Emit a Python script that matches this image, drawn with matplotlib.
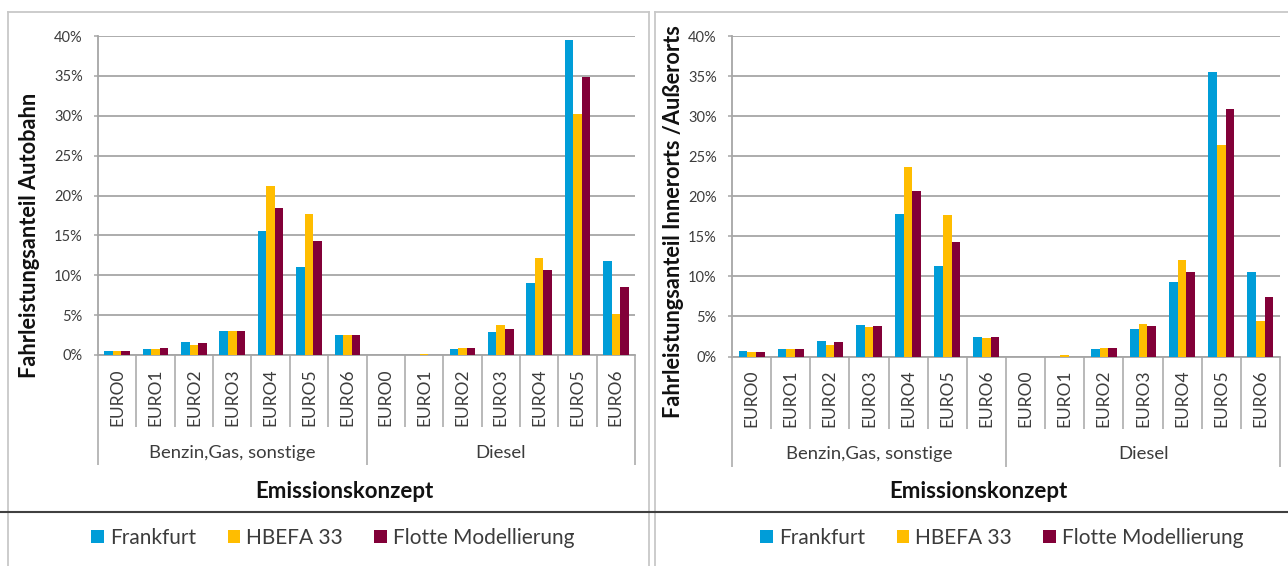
import matplotlib.pyplot as plt
import numpy as np
from matplotlib.lines import Line2D
from matplotlib.ticker import PercentFormatter

plt.rcParams['font.family'] = ['Lato', 'DejaVu Sans']

# Data
classes = ['EURO0', 'EURO1', 'EURO2', 'EURO3', 'EURO4', 'EURO5', 'EURO6']
fuels = ['Benzin,Gas, sonstige', 'Diesel']
series = ['Frankfurt', 'HBEFA 33', 'Flotte Modellierung']
colors = ['#009DD8', '#FFBD00', '#820038']

# Autobahn share in % (Benzin 7 values, then Diesel 7 values)
autobahn_frankfurt = [0.5, 0.8, 1.65, 3.05, 15.6, 11.0, 2.45, 0, 0, 0.8, 2.9, 9.0, 39.5, 11.8]
autobahn_hbefa = [0.5, 0.8, 1.25, 3.05, 21.2, 17.7, 2.45, 0, 0.12, 0.9, 3.7, 12.2, 30.2, 5.1]
autobahn_flotte = [0.5, 0.85, 1.5, 3.05, 18.45, 14.3, 2.45, 0, 0, 0.9, 3.25, 10.6, 34.8, 8.5]

# Innerorts / Ausserorts share in %
inner_frankfurt = [0.65, 0.95, 1.95, 3.9, 17.8, 11.3, 2.45, 0, 0, 0.95, 3.4, 9.3, 35.5, 10.6]
inner_hbefa = [0.5, 0.95, 1.45, 3.7, 23.6, 17.6, 2.3, 0, 0.2, 1.1, 4.1, 12.1, 26.4, 4.4]
inner_flotte = [0.55, 0.95, 1.75, 3.75, 20.7, 14.3, 2.45, 0, 0, 1.0, 3.75, 10.6, 30.9, 7.4]

W, H = 1288, 566
fig = plt.figure(figsize=(W / 100, H / 100), dpi=100)

grey = '#A6A6A6'
text_col = '#3C3C3C'


def fx(px):
    return px / W


def fy(py):
    return 1 - py / H


def draw_panel(ax, data, ylabel, ylabel_x, ylabel_y, xlabel_x):
    x = np.arange(len(fuels) * len(classes))
    w = 0.222
    bars = []
    for i, vals in enumerate(data):
        b = ax.bar(x + (i - 1) * w, np.array(vals) / 100, w, color=colors[i],
                   label=series[i], zorder=3)
        bars.append(b)

    ax.set_xlim(-0.5, len(x) - 0.5)
    ax.set_ylim(0, 0.40)
    ax.set_yticks(np.arange(0, 0.401, 0.05))
    ax.yaxis.set_major_formatter(PercentFormatter(1.0, decimals=0))
    ax.grid(axis='y', color=grey, linewidth=1.3, zorder=0)
    ax.tick_params(axis='y', length=3, width=1.1, color=grey, pad=8,
                   labelsize=10.5, labelcolor=text_col)

    # category separators below the axis
    bounds = np.arange(len(x) + 1) - 0.5
    group_bounds = bounds[::len(classes)]
    ax.set_xticks(group_bounds)
    ax.set_xticks([b for b in bounds if b not in group_bounds], minor=True)
    ax.set_xticklabels([])
    ax.tick_params(axis='x', which='major', length=79, width=1.1, color=grey)
    ax.tick_params(axis='x', which='minor', length=52, width=1.1, color=grey)

    for s in ['top', 'right']:
        ax.spines[s].set_visible(False)
    for s in ['left', 'bottom']:
        ax.spines[s].set_color(grey)
        ax.spines[s].set_linewidth(1.3)

    labels = classes * len(fuels)
    for xi, lab in zip(x, labels):
        ax.annotate(lab, xy=(xi, 0), xycoords=('data', 'axes fraction'),
                    xytext=(0, -9.5), textcoords='offset points',
                    rotation=90, ha='center', va='top', fontsize=12.5,
                    color=text_col)
    for g, name in enumerate(fuels):
        cx = g * len(classes) + (len(classes) - 1) / 2
        ax.annotate(name, xy=(cx, 0), xycoords=('data', 'axes fraction'),
                    xytext=(0, -70.5), textcoords='offset points',
                    ha='center', va='center', fontsize=13.3, color=text_col)

    fig.text(fx(ylabel_x), fy(ylabel_y), ylabel, rotation=90, ha='center',
             va='center', fontsize=15.7, fontweight='bold', color='#111111')
    fig.text(fx(xlabel_x), fy(492), 'Emissionskonzept', ha='center',
             va='center', fontsize=16, fontweight='bold', color='#111111')
    return bars


ax1 = fig.add_axes([fx(98), fy(355), fx(635) - fx(98), fy(36) - fy(355)])
ax2 = fig.add_axes([fx(732), fy(356.5), fx(1280) - fx(732), fy(36) - fy(356.5)])

b1 = draw_panel(ax1, [autobahn_frankfurt, autobahn_hbefa, autobahn_flotte],
                'Fahrleistungsanteil Autobahn', 30, 235, 344)
b2 = draw_panel(ax2, [inner_frankfurt, inner_hbefa, inner_flotte],
                'Fahrleistungsanteil Innerorts /Außerorts', 673, 222, 978)

for handles, cx in [(b1, 333), (b2, 1002)]:
    fig.legend(handles, series, loc='center', bbox_to_anchor=(fx(cx), fy(538)),
               ncol=3, frameon=False, fontsize=15, handlelength=0.6,
               handleheight=0.6, handletextpad=0.3, columnspacing=1.5,
               labelcolor=text_col)

# panel frames
frame = '#C8C8C8'
for xs, ys, c, lw in [
    ([8, 649], [12, 12], frame, 1.3),
    ([8, 8], [12, 566], frame, 1.3),
    ([649, 649], [12, 566], frame, 1.3),
    ([655, 1288], [12, 12], frame, 1.3),
    ([655, 655], [12, 566], frame, 1.3),
    ([0, 1288], [512, 512], '#404040', 1.5),
]:
    fig.add_artist(Line2D([fx(v) for v in xs], [fy(v) for v in ys],
                          color=c, linewidth=lw))

plt.savefig('out.png', dpi=100)
